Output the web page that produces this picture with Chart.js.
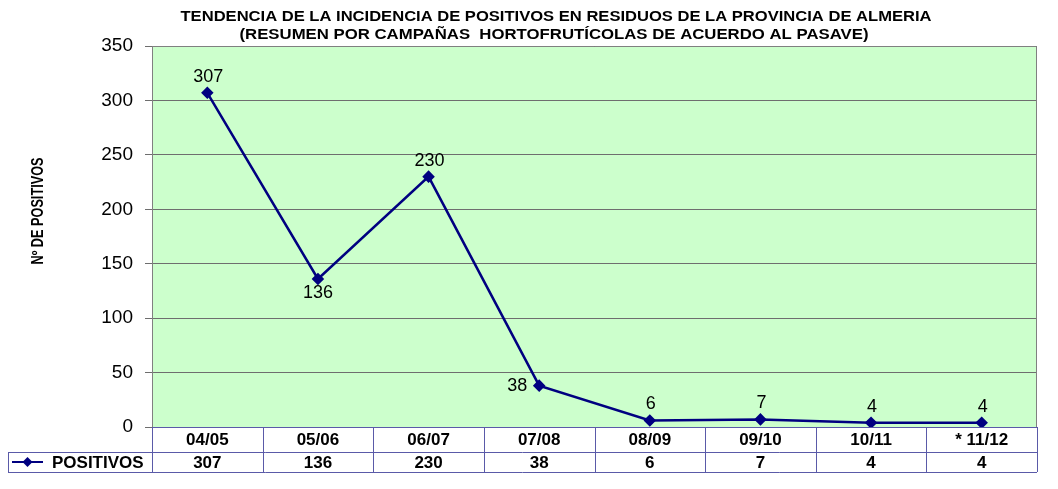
<!DOCTYPE html>
<html>
<head>
<meta charset="utf-8">
<script src="https://cdn.jsdelivr.net/npm/chart.js@4.4.1/dist/chart.umd.min.js"></script>
<style>
html,body{margin:0;padding:0;background:#fff}
#wrap{width:1058px;height:489px}
</style>
</head>
<body>
<div id="wrap"><canvas id="grafico"></canvas></div>
<script>
// datos
const campanas=['04/05','05/06','06/07','07/08','08/09','09/10','10/11','* 11/12']
const positivos=[307,136,230,38,6,7,4,4]
const serieNombre='POSITIVOS'
const yMax=350
const yPaso=50
const titulo=['TENDENCIA DE LA INCIDENCIA DE POSITIVOS EN RESIDUOS DE LA PROVINCIA DE ALMERIA','(RESUMEN POR CAMPAÑAS  HORTOFRUTÍCOLAS DE ACUERDO AL PASAVE)']
const tituloY='Nº DE POSITIVOS'

const ARIAL='"Liberation Sans",Arial,sans-serif'
const AZUL='#000080'
const BORDE_TABLA='#5a5aa8'
// donde va cada etiqueta respecto a su punto
const posEtiqueta=['top','bottom','top','left','top','top','top','top']

// texto estrechado a un ancho dado (imita Arial Narrow)
function textoAjustado(ctx,txt,x,y,ancho){
  const w=ctx.measureText(txt).width
  ctx.save()
  ctx.translate(x,y)
  ctx.scale(ancho/w,1)
  ctx.fillText(txt,0,0)
  ctx.restore()
}

// fondo verde, marco, titulos y tabla de datos
const fondo={
  id:'fondo',
  beforeDraw(chart){
    const {ctx,chartArea:a}=chart
    ctx.save()
    ctx.fillStyle='#ccffcc'
    ctx.fillRect(a.left,a.top,a.right-a.left,a.bottom-a.top)
    ctx.restore()
  },
  afterDraw(chart){
    const {ctx,chartArea:a}=chart
    ctx.save()
    // marco del area
    ctx.strokeStyle='#808080'
    ctx.lineWidth=1
    ctx.beginPath()
    ctx.moveTo(a.left+0.5,a.bottom)
    ctx.lineTo(a.left+0.5,a.top+0.5)
    ctx.lineTo(a.right-0.5,a.top+0.5)
    ctx.lineTo(a.right-0.5,a.bottom)
    ctx.stroke()

    // titulos
    ctx.fillStyle='#000'
    ctx.textAlign='center'
    ctx.textBaseline='middle'
    ctx.font='bold 14px '+ARIAL
    textoAjustado(ctx,titulo[0],556,17,751)
    textoAjustado(ctx,titulo[1],554,35,629)
    ctx.save()
    ctx.translate(39,211)
    ctx.rotate(-Math.PI/2)
    ctx.font='bold 16px '+ARIAL
    textoAjustado(ctx,tituloY,0,0,107)
    ctx.restore()

    // tabla de datos
    const n=campanas.length
    const w=(a.right-a.left)/n
    const y0=a.bottom, y1=a.bottom+25, y2=a.bottom+45
    const xLeyenda=8
    ctx.strokeStyle=BORDE_TABLA
    ctx.beginPath()
    ctx.moveTo(a.left,y0+0.5);ctx.lineTo(a.right,y0+0.5)
    ctx.moveTo(xLeyenda,y1+0.5);ctx.lineTo(a.right,y1+0.5)
    ctx.moveTo(xLeyenda,y2+0.5);ctx.lineTo(a.right,y2+0.5)
    ctx.moveTo(xLeyenda+0.5,y1);ctx.lineTo(xLeyenda+0.5,y2)
    for(let i=0;i<=n;i++){
      const x=Math.round(a.left+i*w)+0.5
      ctx.moveTo(x,y0);ctx.lineTo(x,y2)
    }
    ctx.stroke()

    ctx.fillStyle='#000'
    ctx.font='bold 17px '+ARIAL
    ctx.textAlign='center'
    const xs=chart.scales.x
    campanas.forEach((c,i)=>{
      const x=xs.getPixelForValue(i)
      ctx.fillText(c,x,(y0+y1)/2+1)
      ctx.fillText(String(positivos[i]),x,(y1+y2)/2+1)
    })
    // clave de leyenda
    const ym=(y1+y2)/2
    ctx.strokeStyle=AZUL
    ctx.lineWidth=2
    ctx.beginPath();ctx.moveTo(12,ym);ctx.lineTo(43,ym);ctx.stroke()
    ctx.fillStyle=AZUL
    ctx.beginPath()
    ctx.moveTo(27.5,ym-5);ctx.lineTo(32.5,ym);ctx.lineTo(27.5,ym+5);ctx.lineTo(22.5,ym)
    ctx.closePath();ctx.fill()
    ctx.fillStyle='#000'
    ctx.textAlign='left'
    ctx.fillText(serieNombre,52,ym+1)
    ctx.restore()
  }
}

// etiquetas de valores
const etiquetas={
  id:'etiquetas',
  afterDatasetsDraw(chart){
    const {ctx}=chart
    const meta=chart.getDatasetMeta(0)
    ctx.save()
    ctx.font='18px '+ARIAL
    ctx.fillStyle='#000'
    ctx.textBaseline='middle'
    meta.data.forEach((p,i)=>{
      const v=String(chart.data.datasets[0].data[i])
      const pos=posEtiqueta[i]
      let x=p.x,y=p.y
      ctx.textAlign='center'
      if(pos==='top'){y-=16;x+=1}
      else if(pos==='bottom'){y+=14}
      else if(pos==='left'){x-=12;ctx.textAlign='right'}
      ctx.fillText(v,x,y)
    })
    ctx.restore()
  }
}

new Chart(document.getElementById('grafico'),{
  type:'line',
  data:{
    labels:campanas,
    datasets:[{
      label:serieNombre,
      data:positivos,
      borderColor:AZUL,
      backgroundColor:AZUL,
      borderWidth:2.5,
      pointStyle:'rectRot',
      pointRadius:4.5,
      pointHoverRadius:4.5,
      tension:0
    }]
  },
  options:{
    responsive:true,
    maintainAspectRatio:false,
    animation:false,
    layout:{padding:{left:0,right:21,top:46,bottom:62}},
    plugins:{
      legend:{display:false},
      tooltip:{enabled:false},
      title:{display:false}
    },
    scales:{
      x:{
        display:false,
        offset:true,
        grid:{offset:true}
      },
      y:{
        min:0,
        max:yMax,
        ticks:{stepSize:yPaso,color:'#000',font:{family:ARIAL,size:19},padding:12},
        grid:{color:'#6e6e6e',tickLength:7,lineWidth:1},
        border:{color:'#808080'},
        afterFit(s){s.width=152}
      }
    }
  },
  plugins:[fondo,etiquetas]
})
</script>
</body>
</html>
